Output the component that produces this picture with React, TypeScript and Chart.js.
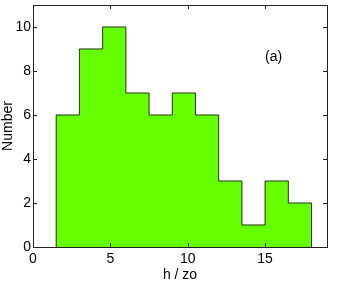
import React, { useEffect, useRef } from "react";
import { Chart, registerables } from "chart.js";

Chart.register(...registerables);

const binEdges = [1.5, 3, 4.5, 6, 7.5, 9, 10.5, 12, 13.5, 15, 16.5, 18];
const counts = [6, 9, 10, 7, 6, 7, 6, 3, 1, 3, 2];
const xTicks = [0, 5, 10, 15];
const yTicks = [0, 2, 4, 6, 8, 10];
const xLabel = "h / zo";
const yLabel = "Number";
const panelLabel = "(a)";

const FONT = "Liberation Sans, Arial, Helvetica, sans-serif";

const binCenters = counts.map((_, i) => (binEdges[i] + binEdges[i + 1]) / 2);
const outline = [
  { x: binEdges[0], y: 0 },
  ...counts.map((c, i) => ({ x: binEdges[i], y: c })),
  { x: binEdges[binEdges.length - 1], y: 0 },
];

const framePlugin = {
  id: "frame",
  afterDraw(chart: any) {
    const { ctx, chartArea } = chart;
    const xs = chart.scales.x;
    const ys = chart.scales.y;
    const { left, right, top, bottom } = chartArea;
    ctx.save();
    ctx.strokeStyle = "#222";
    ctx.lineWidth = 1;
    ctx.strokeRect(Math.round(left) + 0.5, Math.round(top) + 0.5, Math.round(right - left), Math.round(bottom - top));
    const tl = 4;
    ctx.beginPath();
    xTicks.forEach((v) => {
      const px = Math.round(xs.getPixelForValue(v)) + 0.5;
      ctx.moveTo(px, bottom);
      ctx.lineTo(px, bottom - tl);
      ctx.moveTo(px, top);
      ctx.lineTo(px, top + tl);
    });
    yTicks.forEach((v) => {
      const py = Math.round(ys.getPixelForValue(v)) + 0.5;
      ctx.moveTo(left, py);
      ctx.lineTo(left + tl, py);
      ctx.moveTo(right, py);
      ctx.lineTo(right - tl, py);
    });
    ctx.stroke();
    ctx.fillStyle = "#000";
    ctx.font = "14px " + FONT;
    ctx.textAlign = "center";
    ctx.textBaseline = "middle";
    ctx.fillText(panelLabel, xs.getPixelForValue(15.55), ys.getPixelForValue(8.65));
    ctx.restore();
  },
};

export default function App() {
  const ref = useRef<HTMLCanvasElement | null>(null);
  useEffect(() => {
    if (!ref.current) return;
    const chart = new Chart(ref.current, {
      type: "bar",
      data: {
        datasets: [
          {
            type: "line",
            data: outline,
            stepped: "before",
            borderColor: "#333333",
            borderWidth: 1,
            pointRadius: 0,
            fill: false,
            order: 0,
          },
          {
            type: "bar",
            data: binCenters.map((x, i) => ({ x, y: counts[i] })),
            backgroundColor: "#66ff00",
            borderWidth: 0,
            barPercentage: 1,
            categoryPercentage: 1,
            order: 1,
          },
        ],
      },
      options: {
        animation: false,
        responsive: false,
        maintainAspectRatio: false,
        devicePixelRatio: 1,
        layout: { padding: { left: 0, right: 11, top: 5, bottom: 0 } },
        plugins: { legend: { display: false }, tooltip: { enabled: false } },
        scales: {
          x: {
            type: "linear",
            min: 0,
            max: 19,
            offset: false,
            grid: { display: false, drawTicks: false },
            border: { display: false },
            afterBuildTicks: (s: any) => {
              s.ticks = xTicks.map((v) => ({ value: v }));
            },
            afterFit: (s: any) => {
              s.height = 44;
              s.paddingLeft = 0;
              s.paddingRight = 0;
            },
            ticks: {
              color: "#000",
              font: { family: FONT, size: 14 },
              padding: 4,
              maxRotation: 0,
            },
            title: {
              display: true,
              text: xLabel,
              color: "#000",
              font: { family: FONT, size: 14 },
              padding: { top: 0, bottom: 7 },
            },
          },
          y: {
            type: "linear",
            min: 0,
            max: 11,
            grid: { display: false, drawTicks: false },
            border: { display: false },
            afterBuildTicks: (s: any) => {
              s.ticks = yTicks.map((v) => ({ value: v }));
            },
            afterFit: (s: any) => {
              s.width = 33;
              s.paddingTop = 0;
              s.paddingBottom = 0;
            },
            ticks: {
              color: "#000",
              font: { family: FONT, size: 14 },
              padding: 2,
            },
            title: {
              display: true,
              text: yLabel,
              color: "#000",
              font: { family: FONT, size: 14 },
              padding: { top: 0, bottom: 0 },
            },
          },
        },
      },
      plugins: [framePlugin],
    } as any);
    return () => chart.destroy();
  }, []);
  return (
    <div style={{ position: "fixed", left: 0, top: 0, width: 338, height: 291, background: "#fff" }}>
      <canvas ref={ref} width={338} height={291} style={{ width: 338, height: 291, display: "block" }} />
    </div>
  );
}
